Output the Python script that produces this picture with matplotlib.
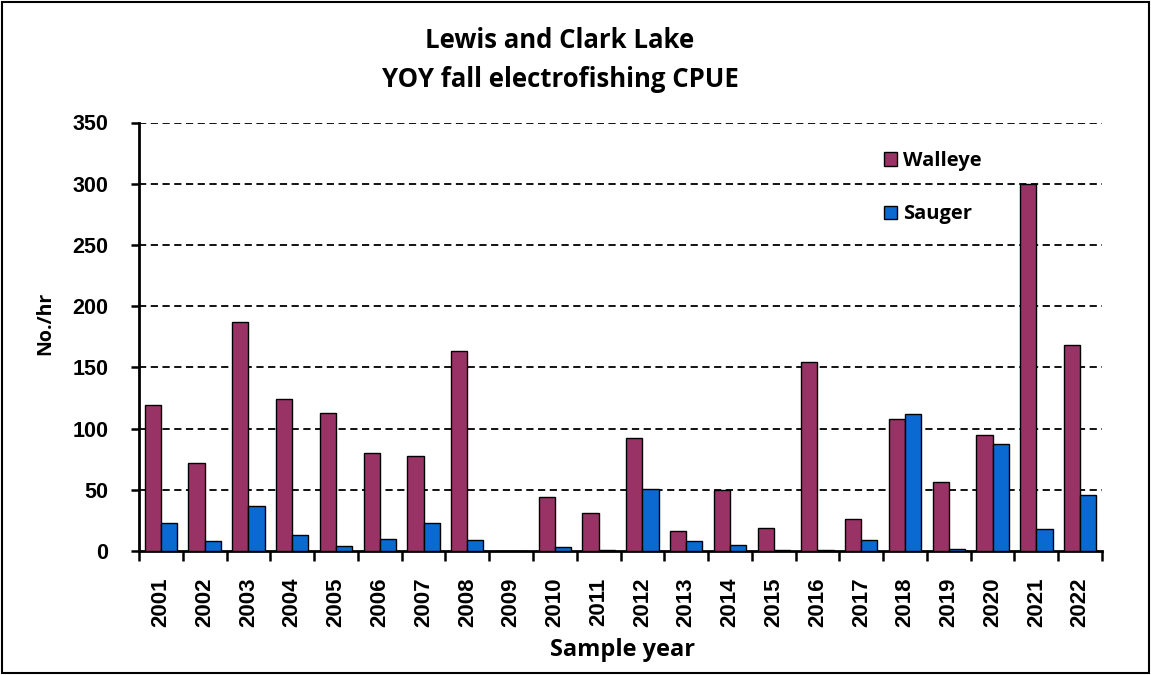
import numpy as np
import matplotlib.pyplot as plt
from matplotlib.patches import Rectangle

years = ["2001", "2002", "2003", "2004", "2005", "2006", "2007", "2008", "2009", "2010", "2011",
         "2012", "2013", "2014", "2015", "2016", "2017", "2018", "2019", "2020", "2021", "2022"]
walleye = [119, 72, 187, 124, 113, 80, 78, 163, 0, 44, 31, 92, 16, 50, 19, 154, 26, 108, 56, 95, 300, 168]
sauger = [23, 8, 37, 13, 4, 10, 23, 9, 0, 3, 1, 51, 8, 5, 1, 1, 9, 112, 2, 87, 18, 46]

W, H = 1151, 675
fig = plt.figure(figsize=(W / 100, H / 100), dpi=100)
ax = fig.add_axes([139 / W, 1 - 551 / H, (1102 - 139) / W, (551 - 122.5) / H])

x = np.arange(len(years))
bw = 0.37
b1 = ax.bar(x - bw / 2, walleye, bw, color="#993366", edgecolor="black", linewidth=1, label="Walleye", zorder=3)
b2 = ax.bar(x + bw / 2, sauger, bw, color="#0a6ad2", edgecolor="black", linewidth=1, label="Sauger", zorder=3)

ax.set_xlim(-0.5, len(years) - 0.5)
ax.set_ylim(0, 350)
ax.set_yticks(range(0, 351, 50))
ax.set_xticks(x)
ax.set_xticklabels(years, rotation=90, fontfamily="Liberation Sans", fontweight="bold", fontsize=16)
ax.set_xticks(np.arange(-0.5, len(years)), minor=True)
ax.tick_params(axis="x", which="major", length=0, pad=19)
ax.tick_params(axis="x", which="minor", length=7, width=1.8, direction="out")
ax.tick_params(axis="y", length=6, width=1.8, direction="out", pad=16)
for t in ax.get_yticklabels():
    t.set_fontfamily("Liberation Sans")
    t.set_fontweight("bold")
    t.set_fontsize(15.5)

# dashed gridlines
for v in range(50, 351, 50):
    ax.axhline(v, color="black", linewidth=1.3, linestyle=(0, (4, 2.5)), zorder=1)

for s in ["top", "right"]:
    ax.spines[s].set_visible(False)
ax.spines["left"].set_linewidth(2)
ax.spines["bottom"].set_linewidth(2)

ax.set_ylabel("No./hr", fontfamily="Open Sans", fontweight="bold", fontsize=14, va="center")
ax.yaxis.set_label_coords(45 / W, 1 - 323 / H, transform=fig.transFigure)
ax.set_xlabel("Sample year", fontfamily="Open Sans", fontweight="bold", fontsize=17, va="center")
ax.xaxis.set_label_coords(623 / W, 1 - 650 / H, transform=fig.transFigure)

fig.text(560 / W, 1 - 48 / H, "Lewis and Clark Lake", ha="center", va="baseline",
         fontfamily="Open Sans", fontweight="bold", fontsize=18.5)
fig.text(560 / W, 1 - 87 / H, "YOY fall electrofishing CPUE", ha="center", va="baseline",
         fontfamily="Open Sans", fontweight="bold", fontsize=18.5)

ax.legend(handles=[b1, b2], loc="upper left", bbox_to_anchor=(866 / W, 1 - 133 / H),
          bbox_transform=fig.transFigure, frameon=False,
          prop={"family": "Open Sans", "weight": "bold", "size": 14.5},
          handlelength=0.65, handleheight=0.65, handletextpad=0.3, labelspacing=1.65)

fig.patches.append(Rectangle((0.002, 0.003), 0.996, 0.994, transform=fig.transFigure,
                             fill=False, edgecolor="black", linewidth=1.5))

fig.savefig("out.png", dpi=100)
